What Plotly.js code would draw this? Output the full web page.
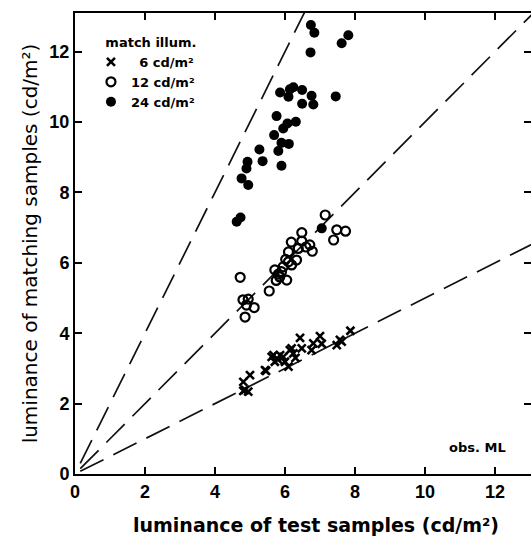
<!DOCTYPE html>
<html>
<head>
<meta charset="utf-8">
<script src="https://cdn.plot.ly/plotly-3.0.1.min.js"></script>
<style>html,body{margin:0;padding:0;background:#fff;}#chart{width:531px;height:537px;}</style>
</head>
<body>
<div id="chart"></div>
<script>
// 6 cd/m2 (crosses)
const x6 = [6.43, 7.00, 7.05, 6.76, 6.48, 7.48, 7.62, 7.87, 6.14, 5.86, 5.62, 5.71, 6.00, 6.10, 5.46, 5.00, 4.81, 4.81, 4.95, 6.19, 5.67, 5.95, 6.24, 6.81, 7.57, 5.43, 4.86, 6.30, 5.80];
const y6 = [3.87, 3.92, 3.70, 3.52, 3.57, 3.66, 3.76, 4.07, 3.52, 3.38, 3.33, 3.19, 3.19, 3.05, 2.93, 2.81, 2.62, 2.36, 2.34, 3.57, 3.38, 3.33, 3.43, 3.71, 3.81, 2.95, 2.39, 3.30, 3.25];
// 12 cd/m2 (open circles)
const x12 = [7.15, 7.48, 7.73, 7.39, 6.48, 6.18, 6.48, 6.78, 6.10, 6.33, 6.02, 4.72, 5.55, 5.12, 4.86, 6.38, 6.19, 5.81, 6.05, 5.71, 5.95, 6.10, 4.95, 4.90, 5.85, 5.75, 6.71, 6.60, 5.90, 4.80];
const y12 = [7.36, 6.94, 6.90, 6.65, 6.86, 6.59, 6.62, 6.33, 6.31, 6.08, 6.10, 5.59, 5.20, 4.73, 4.46, 6.41, 5.94, 5.68, 5.51, 5.80, 5.89, 6.03, 4.97, 4.80, 5.60, 5.50, 6.51, 6.45, 5.75, 4.95];
// 24 cd/m2 (filled circles)
const x24 = [6.74, 6.84, 7.81, 7.62, 6.73, 5.86, 6.14, 6.24, 6.10, 6.49, 6.76, 6.49, 6.81, 7.45, 5.76, 6.07, 6.31, 5.95, 5.69, 5.90, 6.11, 5.81, 5.27, 5.36, 5.90, 4.93, 4.90, 4.76, 4.95, 4.73, 4.62, 7.05];
const y24 = [12.76, 12.54, 12.47, 12.24, 11.98, 10.84, 10.93, 10.99, 10.72, 10.91, 10.75, 10.52, 10.50, 10.73, 10.17, 9.96, 10.01, 9.82, 9.63, 9.41, 9.38, 9.18, 9.22, 8.89, 8.76, 8.87, 8.68, 8.40, 8.21, 7.29, 7.17, 6.98];
// reference lines y = k * x
const slopes = [2, 1, 0.5];
const lineX = [0.15, 13.1];

const FONT = 'Liberation Sans, Arial, sans-serif';
const WIDE = 'DejaVu Sans, sans-serif';
const traces = [];
slopes.forEach(k => {
  traces.push({
    x: lineX, y: lineX.map(v => v * k), mode: 'lines', showlegend: false, hoverinfo: 'skip',
    line: {color: '#111', width: 1.7, dash: '26px,11px'}
  });
});
traces.push({x: x6, y: y6, mode: 'markers', name: '&nbsp;&nbsp;<b>6 cd/m²</b>',
  marker: {symbol: 'x-thin-open', size: 8, color: '#000', line: {color: '#000', width: 2.6}}});
traces.push({x: x12, y: y12, mode: 'markers', name: '<b>12 cd/m²</b>',
  marker: {symbol: 'circle-open', size: 9, color: '#000', line: {color: '#000', width: 2.2}}});
traces.push({x: x24, y: y24, mode: 'markers', name: '<b>24 cd/m²</b>',
  marker: {symbol: 'circle', size: 10, color: '#000'}});

const axisCommon = {
  showline: true, linecolor: '#000', linewidth: 2, mirror: 'ticks',
  ticks: 'inside', ticklen: 7, tickwidth: 2, tickcolor: '#000',
  showgrid: false, zeroline: false, dtick: 2,
  tickfont: {family: FONT, size: 18, color: '#000', weight: 'bold'}
};
const layout = {
  width: 531, height: 537,
  margin: {l: 75, r: 0, t: 13, b: 63},
  paper_bgcolor: '#fff', plot_bgcolor: '#fff',
  xaxis: Object.assign({}, axisCommon, {range: [0, 13.03]}),
  yaxis: Object.assign({}, axisCommon, {range: [0, 13.1],
    title: {text: 'luminance of matching samples (cd/m²)', font: {family: WIDE, size: 20, color: '#000'}, standoff: 6}}),
  showlegend: true,
  legend: {x: 0.035, y: 0.963, xanchor: 'left', yanchor: 'top', bgcolor: 'rgba(0,0,0,0)',
    font: {family: WIDE, size: 13, color: '#000'}, itemwidth: 30, tracegroupgap: 0,
    title: {text: '&nbsp;&nbsp;&nbsp;<b>match illum.</b>', font: {family: WIDE, size: 13, color: '#000'}}},
  annotations: [
    {x: 12.37, y: 0.74, xref: 'x', yref: 'y', xanchor: 'right', showarrow: false,
     text: '<b>obs. ML</b>', font: {family: WIDE, size: 13, color: '#000'}},
    {x: 0.528, y: -0.1106, xref: 'paper', yref: 'paper', xanchor: 'center', yanchor: 'middle', showarrow: false,
     text: '<b>luminance of test samples (cd/m²)</b>', font: {family: WIDE, size: 19, color: '#000'}}
  ]
};
Plotly.newPlot('chart', traces, layout, {displayModeBar: false, staticPlot: true});
</script>
</body>
</html>
